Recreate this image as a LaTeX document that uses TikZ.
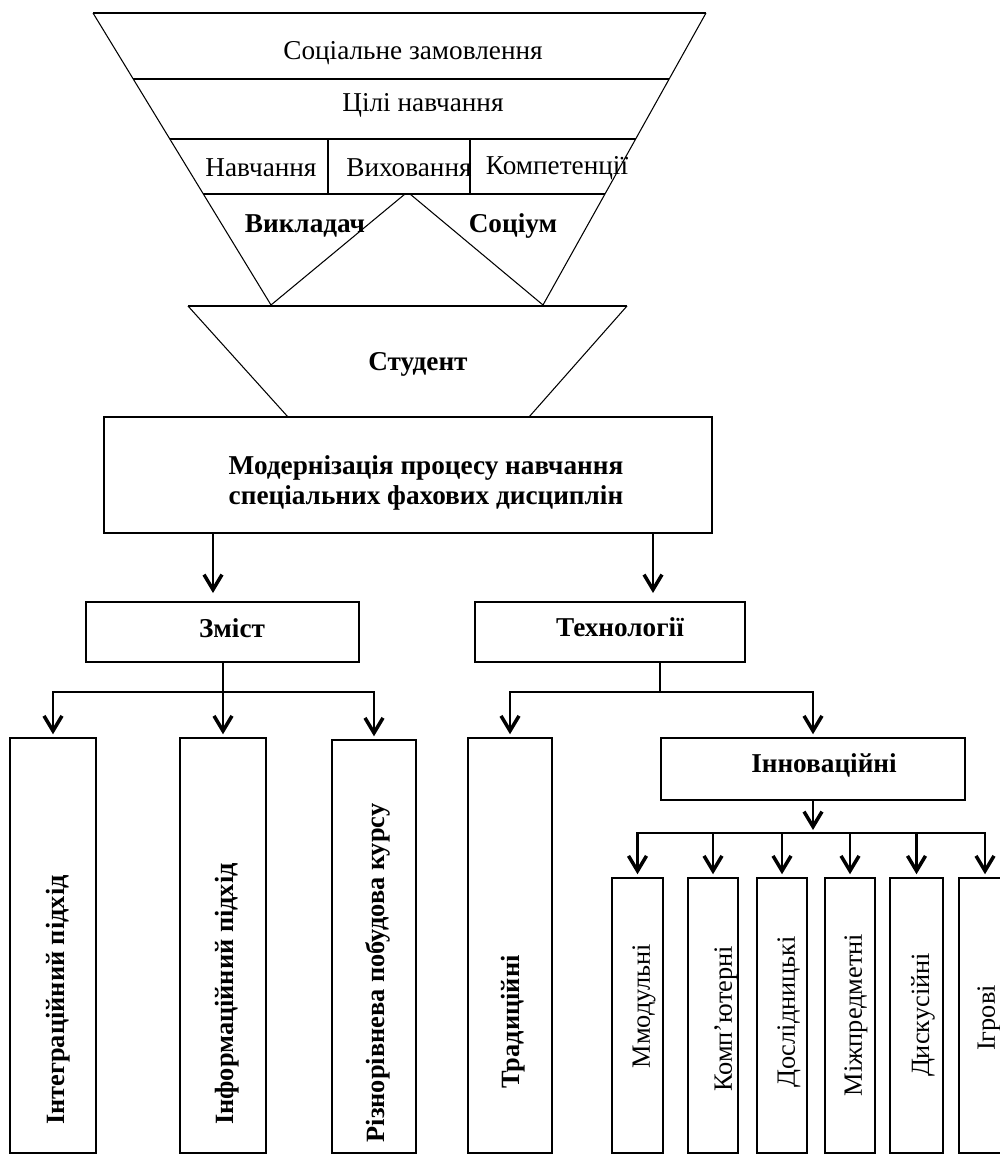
\documentclass[tikz,border=0pt]{standalone}
\usepackage{fontspec}
\setmainfont{Liberation Serif}
\usepackage{tikz}
\usetikzlibrary{arrows.meta}

\newcommand{\px}{0.2mm}
\tikzset{
	box/.style 2 args={draw, line width=0.3mm, inner sep=0pt, minimum width=#1*\px, minimum height=#2*\px},
	arr/.style={line width=0.55mm, shorten >=0.6mm, -{Straight Barb[length=3mm,width=3.6mm,line width=0.7mm]}},
	bus/.style={line width=0.55mm, line cap=rect},
	txt/.style={inner sep=0pt, font=\fontsize{15.5}{17.5}\selectfont},
	btxt/.style={inner sep=0pt, font=\fontsize{15.5}{17.5}\selectfont\bfseries},
	vtxt/.style={inner sep=0pt, rotate=90, font=\fontsize{15}{17}\selectfont},
	vbtxt/.style={inner sep=0pt, rotate=90, font=\fontsize{15}{17}\selectfont\bfseries},
}

\begin{document}
\begin{tikzpicture}[x=0.2mm,y=-0.2mm]
	\useasboundingbox (0,0) rectangle (1000,1156);
	
	% funnel
	\draw[semithick] (93,13) -- (706,13);
	\draw[semithick] (133,79) -- (669,79);
	\draw[semithick] (170,139) -- (636,139);
	\draw[semithick] (203,194) -- (605,194);
	\draw[semithick] (93,13) -- (271,305);
	\draw[semithick] (706,13) -- (543,305);
	\draw[semithick] (328,139) -- (328,194);
	\draw[semithick] (470,139) -- (470,194);
	\draw[semithick] (271,305) -- (405,194);
	\draw[semithick] (410,194) -- (543,305);
	
	\draw[semithick] (188,306) -- (627,306);
	\draw[semithick] (188,306) -- (288,417);
	\draw[semithick] (627,306) -- (529,417);
	
	\node[txt] (socz) at (413,53) {Соціальне замовлення};
	\node[txt] (cili) at (423,105) {Цілі навчання};
	\node[txt] (navch) at (261,168) {Навчання};
	\node[txt] (vykh) at (409,168) {Виховання};
	\node[txt] (komp) at (557,168) {Компетенції};
	\node[btxt] (vykl) at (305,226) {Викладач};
	\node[btxt] (socium) at (513,226) {Соціум};
	\node[btxt] (stud) at (418,364) {Студент};
	
	% boxes
	\node[box={608}{116}] (modern) at (408,475) {};
	\node[btxt, align=center] (modt) at (426,483) {Модернізація процесу навчання\\спеціальних фахових дисциплін};
	
	\node[box={273}{60}] (zmist) at (222.5,632) {};
	\node[btxt] (zmistt) at (232,628) {Зміст};
	\node[box={270}{60}] (tech) at (610,632) {};
	\node[btxt] (techt) at (620,627) {Технології};
	
	\node[box={86}{415}] (integr) at (53,945.5) {};
	\node[box={86}{415}] (inform) at (223,945.5) {};
	\node[box={84}{413}] (rizno) at (374,946.5) {};
	\node[box={84}{415}] (trad) at (510,945.5) {};
	\node[vbtxt] (integrt) at (58,1000) {Інтеграційний підхід};
	\node[vbtxt] (informt) at (227,994) {Інформаційний підхід};
	\node[vbtxt] (riznot) at (378,973) {Різнорівнева побудова курсу};
	\node[vbtxt] (tradt) at (513,1022) {Традиційні};
	
	\node[box={304}{62}] (innov) at (813,769) {};
	\node[btxt] (innovt) at (824,765) {Інноваційні};
	
	\node[box={51}{275}] (modul) at (637.5,1015.5) {};
	\node[box={50}{275}] (kompj) at (713,1015.5) {};
	\node[box={50}{275}] (dosl) at (782,1015.5) {};
	\node[box={50}{275}] (mizh) at (850,1015.5) {};
	\node[box={53}{275}] (dysk) at (916.5,1015.5) {};
	\node[box={52}{275}] (igr) at (985,1015.5) {};
	\node[vtxt] (modult) at (644,1006) {Ммодульні};
	\node[vtxt] (kompjt) at (726,1019) {Комп’ютерні};
	\node[vtxt] (doslt) at (789,1012) {Дослідницькі};
	\node[vtxt] (mizht) at (856,1015) {Міжпредметні};
	\node[vtxt] (dyskt) at (923,1015) {Дискусійні};
	\node[vtxt] (igrt) at (989,1018) {Ігрові};
	
	% arrows
	\coordinate (ma) at (213,596);
	\coordinate (mb) at (653,596);
	\draw[arr] (modern.south -| ma) -- (ma);
	\draw[arr] (modern.south -| mb) -- (mb);
	
	\coordinate (zb) at (222,692);
	\draw[bus] (integr.north |- zb) -- (rizno.north |- zb);
	\draw[arr] (integr.north |- zb) -- (integr.north);
	\draw[arr] (inform.north |- zmist.south) -- (inform.north);
	\draw[arr] (rizno.north |- zb) -- (rizno.north);
	
	\coordinate (tb) at (660,692);
	\draw[semithick] (tech.south -| tb) -- (tb);
	\draw[bus] (trad.north |- tb) -- (innov.north |- tb);
	\draw[arr] (trad.north |- tb) -- (trad.north);
	\draw[arr] (innov.north |- tb) -- (innov.north);
	
	\coordinate (ib) at (813,833);
	\draw[arr] (innov.south) -- (ib);
	\draw[bus] (modul.north |- ib) -- (igr.north |- ib);
	\draw[arr] (modul.north |- ib) -- (modul.north);
	\draw[arr] (kompj.north |- ib) -- (kompj.north);
	\draw[arr] (dosl.north |- ib) -- (dosl.north);
	\draw[arr] (mizh.north |- ib) -- (mizh.north);
	\draw[arr] (dysk.north |- ib) -- (dysk.north);
	\draw[arr] (igr.north |- ib) -- (igr.north);
\end{tikzpicture}
\end{document}
